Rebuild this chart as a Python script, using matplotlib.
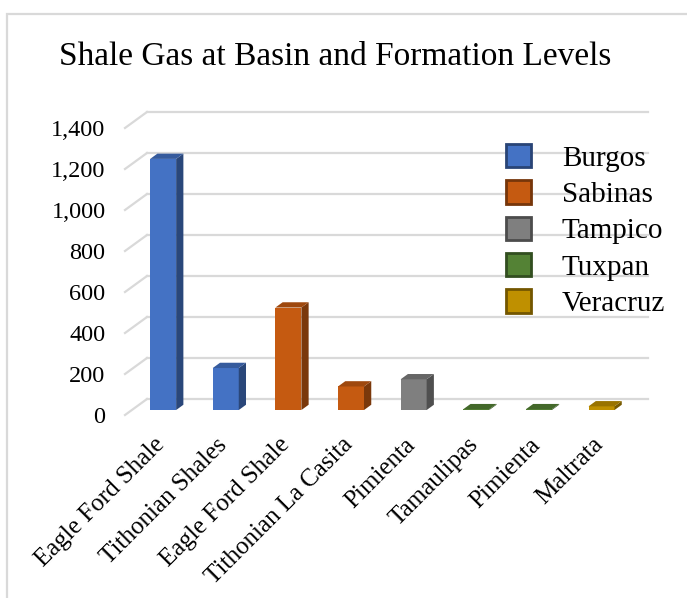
import matplotlib
matplotlib.use("Agg")
import matplotlib.pyplot as plt
from matplotlib.patches import Polygon, Patch, Rectangle
from matplotlib.colors import to_rgb

plt.rcParams['font.family'] = ['Liberation Serif', 'DejaVu Serif']

# data
formations = ["Eagle Ford Shale", "Tithonian Shales", "Eagle Ford Shale",
              "Tithonian La Casita", "Pimienta", "Tamaulipas", "Pimienta", "Maltrata"]
basins = ["Burgos", "Burgos", "Sabinas", "Sabinas", "Tampico", "Tuxpan", "Tuxpan", "Veracruz"]
values = [1225, 205, 500, 115, 150, 4, 4, 18]
basin_names = ["Burgos", "Sabinas", "Tampico", "Tuxpan", "Veracruz"]
basin_colors = ["#4472C4", "#C55A11", "#7F7F7F", "#548235", "#BF9000"]
yticks = [0, 200, 400, 600, 800, 1000, 1200, 1400]

color_of = dict(zip(basin_names, basin_colors))


def shade(c, f):
    r, g, b = to_rgb(c)
    return (r * f, g * f, b * f)


# fake 3d: depth offset of back wall in data units
ox, oy = 0.351, 78.0
d0, d1 = 0.31, 0.64      # bar front / back depth fraction
bw = 0.415               # bar width
n = len(formations)

W, H = 687, 598
fig = plt.figure(figsize=(W / 100, H / 100), dpi=100)
ax = fig.add_axes([125 / W, 1 - 415 / H, (648 - 125) / W, (415 - 112) / H])
ax.set_xlim(0, n + ox)
ax.set_ylim(0, yticks[-1] + oy)

grid_c = "#d9d9d9"
for v in yticks:
    ax.plot([ox, n + ox], [v + oy, v + oy], color=grid_c, lw=1.6, zorder=1, clip_on=False)
    ax.plot([0, ox], [v, v + oy], color=grid_c, lw=1.6, zorder=1, clip_on=False)

for i, (b, v) in enumerate(zip(basins, values)):
    c = color_of[b]
    x0 = i + 0.5 - bw / 2
    fx0, fy0 = x0 + d0 * ox, d0 * oy
    bx, by = (d1 - d0) * ox, (d1 - d0) * oy
    # front face
    ax.bar(fx0, v, width=bw, bottom=fy0, align='edge', color=c, lw=0, zorder=3)
    # side face
    side = [(fx0 + bw, fy0), (fx0 + bw + bx, fy0 + by),
            (fx0 + bw + bx, fy0 + by + v), (fx0 + bw, fy0 + v)]
    ax.add_patch(Polygon(side, closed=True, color=shade(c, 0.62), lw=0, zorder=3))
    # top face
    top = [(fx0, fy0 + v), (fx0 + bw, fy0 + v),
           (fx0 + bw + bx, fy0 + by + v), (fx0 + bx, fy0 + by + v)]
    ax.add_patch(Polygon(top, closed=True, color=shade(c, 0.8), lw=0, zorder=4))

for s in ax.spines.values():
    s.set_visible(False)

ax.set_yticks(yticks)
ax.set_yticklabels(["{:,}".format(v) for v in yticks], fontsize=17.5)
ax.tick_params(axis='y', length=0, pad=14)

ax.set_xticks([i + 0.58 for i in range(n)])
ax.set_xticklabels(formations, fontsize=18, rotation=45, ha='right', va='center',
                   rotation_mode='anchor')
ax.tick_params(axis='x', length=0, pad=19)

handles = [Patch(facecolor=c, edgecolor=shade(c, 0.6), lw=2) for c in basin_colors]
fig.legend(handles, basin_names, loc='upper left',
           bbox_to_anchor=(506 / W, 1 - 144 / H), frameon=False, fontsize=21,
           handlelength=0.86, handleheight=0.86, handletextpad=1.05,
           labelspacing=0.29, borderpad=0, borderaxespad=0)

fig.text(335 / W, 1 - 57 / H, "Shale Gas at Basin and Formation Levels",
         fontsize=24, ha='center', va='center')

# chart area border
fig.add_artist(Rectangle((7 / W, -0.1), 1.2, 1 - 14 / H + 0.1, transform=fig.transFigure,
                         fill=False, edgecolor=grid_c, lw=1.6))

fig.savefig("out.png", dpi=100)
